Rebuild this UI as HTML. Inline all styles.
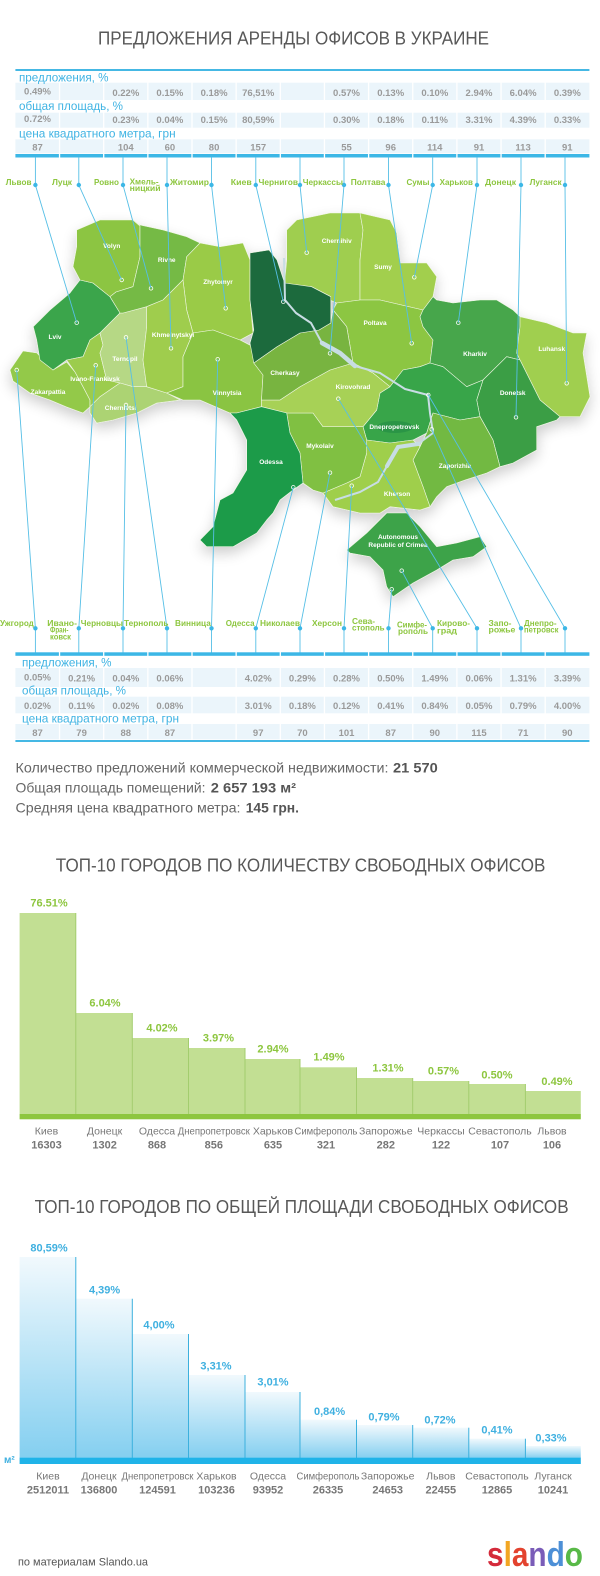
<!DOCTYPE html>
<html><head><meta charset="utf-8"><style>
html,body{margin:0;padding:0;background:#fff;}
svg{display:block;}
text{font-family:"Liberation Sans","DejaVu Sans",sans-serif;}
.t{fill:#585858;font-size:18px;}
.lb{fill:#3fb3e3;font-size:12px;}
.v{fill:#9a9a9a;font-size:9.5px;font-weight:bold;text-anchor:middle;}
.cl{fill:#8dc63f;font-size:8.5px;font-weight:bold;}
.rg{fill:#fff;font-size:6.5px;font-weight:bold;text-anchor:middle;}
.p1{fill:#8dc63f;font-size:11px;font-weight:bold;text-anchor:middle;}
.p2{fill:#3fb0e0;font-size:11px;font-weight:bold;text-anchor:middle;}
.cn{fill:#777;font-size:10.5px;text-anchor:middle;}
.nm{fill:#777;font-size:11px;font-weight:bold;text-anchor:middle;}
.st{fill:#666;font-size:14px;}
.sb{fill:#555;font-size:14px;font-weight:bold;}
</style></head><body>
<svg width="600" height="1576" viewBox="0 0 600 1576" xmlns="http://www.w3.org/2000/svg">
<defs>
<linearGradient id="g2" x1="0" y1="0" x2="0" y2="1"><stop offset="0" stop-color="#f1f9fd"/><stop offset="1" stop-color="#84cff0"/></linearGradient>
<filter id="sh" x="-10%" y="-10%" width="120%" height="130%"><feGaussianBlur in="SourceAlpha" stdDeviation="7"/><feOffset dx="0" dy="6"/><feComponentTransfer><feFuncA type="linear" slope="0.2"/></feComponentTransfer><feMerge><feMergeNode/><feMergeNode in="SourceGraphic"/></feMerge></filter>
</defs>
<rect width="600" height="1576" fill="#fff"/>

<!-- Title -->
<text class="t" x="98" y="44.5" textLength="391" lengthAdjust="spacingAndGlyphs">ПРЕДЛОЖЕНИЯ АРЕНДЫ ОФИСОВ В УКРАИНЕ</text>

<!-- Top table -->
<rect x="15.4" y="69" width="574" height="2" fill="#45b8e4"/>
<rect x="15.4" y="82.7" width="574" height="17.3" fill="#ebf5fb"/>
<rect x="15.4" y="112.7" width="574" height="15" fill="#ebf5fb"/>
<rect x="15.4" y="139.3" width="574" height="14" fill="#ebf5fb"/>
<rect x="15.4" y="154" width="574" height="3.5" fill="#3cb7e6"/>
<g stroke="#fff" stroke-width="1.3">
<line x1="59.55" y1="82" x2="59.55" y2="158"/><line x1="103.7" y1="82" x2="103.7" y2="158"/><line x1="147.85" y1="82" x2="147.85" y2="158"/><line x1="192" y1="82" x2="192" y2="158"/><line x1="236.15" y1="82" x2="236.15" y2="158"/><line x1="280.3" y1="82" x2="280.3" y2="158"/><line x1="324.45" y1="82" x2="324.45" y2="158"/><line x1="368.6" y1="82" x2="368.6" y2="158"/><line x1="412.75" y1="82" x2="412.75" y2="158"/><line x1="456.9" y1="82" x2="456.9" y2="158"/><line x1="501.05" y1="82" x2="501.05" y2="158"/><line x1="545.2" y1="82" x2="545.2" y2="158"/>
</g>
<text class="lb" x="19" y="81.7" textLength="89.5" lengthAdjust="spacingAndGlyphs">предложения, %</text>
<text class="lb" x="19" y="110" textLength="104" lengthAdjust="spacingAndGlyphs">общая площадь, %</text>
<text class="lb" x="19" y="137.3" textLength="156.6" lengthAdjust="spacingAndGlyphs">цена квадратного метра, грн</text>
<g class="v">
<text class="v" x="37.5" y="94.5">0.49%</text><text class="v" x="125.8" y="96">0.22%</text><text class="v" x="169.9" y="96">0.15%</text><text class="v" x="214.1" y="96">0.18%</text><text class="v" x="258.2" y="96">76,51%</text><text class="v" x="346.5" y="96">0.57%</text><text class="v" x="390.7" y="96">0.13%</text><text class="v" x="434.8" y="96">0.10%</text><text class="v" x="479" y="96">2.94%</text><text class="v" x="523.1" y="96">6.04%</text><text class="v" x="567.3" y="96">0.39%</text>
<text class="v" x="37.5" y="122">0.72%</text><text class="v" x="125.8" y="123">0.23%</text><text class="v" x="169.9" y="123">0.04%</text><text class="v" x="214.1" y="123">0.15%</text><text class="v" x="258.2" y="123">80,59%</text><text class="v" x="346.5" y="123">0.30%</text><text class="v" x="390.7" y="123">0.18%</text><text class="v" x="434.8" y="123">0.11%</text><text class="v" x="479" y="123">3.31%</text><text class="v" x="523.1" y="123">4.39%</text><text class="v" x="567.3" y="123">0.33%</text>
<text class="v" x="37.5" y="150.5">87</text><text class="v" x="125.8" y="150.5">104</text><text class="v" x="169.9" y="150.5">60</text><text class="v" x="214.1" y="150.5">80</text><text class="v" x="258.2" y="150.5">157</text><text class="v" x="346.5" y="150.5">55</text><text class="v" x="390.7" y="150.5">96</text><text class="v" x="434.8" y="150.5">114</text><text class="v" x="479" y="150.5">91</text><text class="v" x="523.1" y="150.5">113</text><text class="v" x="567.3" y="150.5">91</text>
</g>

<!-- MAP -->
<g filter="url(#sh)" stroke="#eef6e2" stroke-width="0.6" stroke-linejoin="round">
<polygon fill="#93c94a" points="10,370 23,351 37,353 45,362 53,370 66.7,362 75,372 83,386.7 90,400 90,406.7 83,413 66.7,407 50,400 30,393 13,381"/>
<polygon fill="#3aa54b" points="33.3,326.7 50,310 70,293 80,280 93,283 110,296.7 120,313 113,320 100,333 90,340 83,356.7 66.7,360 53,370 40,360 36.7,340"/>
<polygon fill="#9ccc4e" points="66.7,360 83,356.7 90,340 100,333 103,345 100,353 106.7,380 120,383 100,396.7 90,406.7 90,400 83,386.7 75,372"/>
<polygon fill="#b6d885" points="100,333 113,320 120,313 123,313 146.7,306.7 146.7,326.7 143,360 146.7,386.7 133,386.7 120,383 106.7,380 100,353 103,345"/>
<polygon fill="#acd373" points="100,396.7 120,383 133,386.7 146.7,386.7 166.7,393 180,400 156.7,403 136.7,413 113,420 96.7,423 90,413 90,406.7"/>
<polygon fill="#8cc542" points="76.7,230 100,220 133,220 140,226 140,256.7 133,286.7 116,292 110,296.7 93,283 80,280 73,266.7 76.7,246.7"/>
<polygon fill="#74ba44" points="133,220 140,225 163,230 186.7,236.7 200,243 186.7,256.7 183,280 163,300 146.7,306.7 123,313 120,313 110,296.7 116,292 133,286.7 140,256.7 140,226"/>
<polygon fill="#9acb47" points="200,243 220,246.7 243,243 250,260 250,300 253,333 240,340 213,330 193,333 186.7,310 183,280 186.7,256.7"/>
<polygon fill="#9fcd4d" points="146.7,306.7 163,300 183,280 186.7,310 193,333 183,356.7 183,386.7 166.7,393 146.7,386.7 143,360 146.7,326.7"/>
<polygon fill="#8ac443" points="193,333 213,330 240,340 253,346.7 253.8,363 263,375 261.5,400 261.5,406.7 236.7,413 230,413 200,400 183,400 166.7,393 183,386.7 183,356.7"/>
<polygon fill="#9fce4f" points="286.7,230 296.7,220 330,213 360,213 363,230 360,260 360,300 336.7,303 330,300 330.8,296.7 311.5,286.7 290,286.7 284.6,283 286.7,260"/>
<polygon fill="#a2cf4e" points="360,213 390,220 396.7,233 400,263 426.7,263 436.7,276.7 433,296.7 423,310 380,300 360,300 360,260 363,230"/>
<polygon fill="#8cc643" points="336.7,303 360,300 380,300 423,310 420,316.7 423,326.7 433,340 430,363 420,366.7 403,370 390,386.7 373,373 353,363 346.7,326.7 333,310"/>
<polygon fill="#46a64b" points="420,316.7 423,310 433,296.7 436.7,300 453,303 480,300 496.7,300 513,310 520,316.7 520,326.7 516.7,353 520,360 506.7,356.7 483,380 466.7,386.7 443,366.7 430,363 433,340 423,326.7"/>
<polygon fill="#a0cf50" points="520,316.7 546.7,323 573,333 586.7,333 583,353 590,396.7 580,416.7 560,416.7 540,400 520,360 516.7,353 520,326.7"/>
<polygon fill="#3b9e45" points="520,360 540,400 560,416.7 556.7,420 536.7,426.7 536.7,450 513,463 500,466.7 493,440 480,416.7 476.7,400 483,380 506.7,356.7"/>
<polygon fill="#38a54a" points="380,393 390,386.7 403,370 420,366.7 430,363 443,366.7 466.7,386.7 483,380 476.7,400 480,416.7 460,420 433,413 426.7,433 413,440 390,443 366.7,440 363,426.7 376.7,410"/>
<polygon fill="#72b943" points="433,413 460,420 480,416.7 493,440 500,466.7 486.7,473 465,480 446.7,486.7 436.7,496.7 430,506.7 423,486.7 413,460 420,446.7 426.7,433"/>
<polygon fill="#9fcf4c" points="390,443 413,440 420,446.7 413,460 423,486.7 430,506.7 420,510 390,506.7 380,513 360,513 333,506.7 323,493 346.7,483 360,476.7 366.7,453 366.7,440"/>
<polygon fill="#80c043" points="286.7,413 313,413 323,426.7 363,426.7 366.7,440 366.7,453 360,476.7 346.7,483 323,493 313,490 303,483 300,453 290,433"/>
<polygon fill="#a7d156" points="261.5,400 280,400 300,386.7 330,370 353,363 373,373 390,386.7 380,393 376.7,410 363,426.7 323,426.7 313,413 286.7,413 261.5,406.7"/>
<polygon fill="#78b43f" points="253.8,363 277,346.7 300,333 319,330 330.8,323 333,310 346.7,326.7 353,363 330,370 300,386.7 280,400 261.5,400 263,375"/>
<polygon fill="#1c6b3c" points="250,253 269,250 277,260 284.6,283 311.5,286.7 330.8,296.7 330.8,323 319,330 300,333 277,346.7 253.8,363 250,343 253.8,330 250,300 250,263"/>
<polygon fill="#1a9b4a" points="230,413 236.7,413 261.5,406.7 286.7,413 290,433 300,453 303,483 293,490 280,500 273,513 266.7,520 256.7,533 233,546.7 206.7,546.7 200,540 213,526.7 220,500 233,493 246.7,470 246.7,440 236.7,420"/>
<polygon fill="#3ea34a" points="346.7,550 366.7,533 386.7,513 406.7,513 420,526.7 436.7,546.7 456.7,543 480,536.7 486.7,546.7 473,556.7 453,560 436.7,570 413,583 393,596.7 386.7,586.7 383,570 370,556.7 350,553"/>
</g>
<ellipse cx="395" cy="427" rx="18" ry="6" fill="#2a9546"/>
<path d="M284,258 L285,300 L296,313 L311,323 L322,343 L340,353 L355,366 L380,373 L405,389 L428,395 L430,413 L433,433 L418,444 L398,447 L387,466 L378,482 L360,492 L335,500" fill="none" stroke="#c8dde4" stroke-width="2" stroke-linejoin="round"/>
<path d="M322,343 L340,353 L355,366" fill="none" stroke="#c8dde4" stroke-width="4.5" stroke-linecap="round"/>
<path d="M418,444 L398,447 L387,466" fill="none" stroke="#c8dde4" stroke-width="4" stroke-linecap="round"/>
<g>
<text class="rg" x="111.7" y="248">Volyn</text><text class="rg" x="166.7" y="262">Rivne</text><text class="rg" x="218" y="284">Zhytomyr</text><text class="rg" x="55" y="339">Lviv</text><text class="rg" x="125" y="361">Ternopil</text><text class="rg" x="173" y="337">Khmelnytskyi</text><text class="rg" x="95" y="381">Ivano-Frankivsk</text><text class="rg" x="48" y="394">Zakarpattia</text><text class="rg" x="120.7" y="410">Chernivtsi</text><text class="rg" x="227" y="395">Vinnytsia</text><text class="rg" x="285" y="375">Cherkasy</text><text class="rg" x="271" y="464">Odessa</text><text class="rg" x="336.7" y="243">Chernihiv</text><text class="rg" x="383" y="269">Sumy</text><text class="rg" x="375" y="325">Poltava</text><text class="rg" x="475" y="356">Kharkiv</text><text class="rg" x="551.7" y="351">Luhansk</text><text class="rg" x="512.7" y="395">Donetsk</text><text class="rg" x="353" y="389">Kirovohrad</text><text class="rg" x="394.3" y="429">Dnepropetrovsk</text><text class="rg" x="455" y="468">Zaporizhia</text><text class="rg" x="320" y="448">Mykolaiv</text><text class="rg" x="397" y="496">Kherson</text><text class="rg" x="398" y="539">Autonomous</text><text class="rg" x="398" y="547">Republic of Crimea</text>
</g>
<g fill="none" stroke="#fff" stroke-width="0.8">
<circle cx="76.7" cy="322.7" r="1.8"/><circle cx="121.7" cy="280" r="1.8"/><circle cx="151" cy="288.3" r="1.8"/><circle cx="171" cy="348.3" r="1.8"/><circle cx="225.7" cy="308.3" r="1.8"/><circle cx="283.3" cy="301.7" r="1.8"/><circle cx="306.7" cy="252.7" r="1.8"/><circle cx="330" cy="353.3" r="1.8"/><circle cx="411.7" cy="343.3" r="1.8"/><circle cx="414.3" cy="277.3" r="1.8"/><circle cx="458.3" cy="322.7" r="1.8"/><circle cx="516" cy="417.3" r="1.8"/><circle cx="566.7" cy="383.3" r="1.8"/>
<circle cx="16.7" cy="370" r="1.8"/><circle cx="95.7" cy="365.3" r="1.8"/><circle cx="126" cy="405" r="1.8"/><circle cx="126" cy="337.3" r="1.8"/><circle cx="217.7" cy="359.3" r="1.8"/><circle cx="293.3" cy="487.3" r="1.8"/><circle cx="330" cy="472.7" r="1.8"/><circle cx="351.7" cy="485.7" r="1.8"/><circle cx="391.7" cy="589.3" r="1.8"/><circle cx="401.7" cy="570.7" r="1.8"/><circle cx="338.3" cy="398.7" r="1.8"/><circle cx="431.7" cy="429.3" r="1.8"/><circle cx="428.3" cy="395" r="1.8"/>
</g>

<!-- connectors top -->
<g stroke="#56bfe6" stroke-width="0.9" fill="none">
<polyline points="35.4,157 35.4,185 76.7,322.7"/><polyline points="78.8,157 78.8,185 121.7,280"/><polyline points="123,157 123,185 151,288.3"/><polyline points="167,157 167,185 171,348.3"/><polyline points="211.5,157 211.5,185 225.7,308.3"/><polyline points="255.8,157 255.8,185 283.3,301.7"/><polyline points="300,157 300,185 306.7,252.7"/><polyline points="344,157 344,185 330,353.3"/><polyline points="388.5,157 388.5,185 411.7,343.3"/><polyline points="432.7,157 432.7,185 414.3,277.3"/><polyline points="477,157 477,185 458.3,322.7"/><polyline points="521,157 521,185 516,417.3"/><polyline points="565,157 565,185 566.7,383.3"/>
<polyline points="35.4,653 35.4,628.3 16.7,370"/><polyline points="78.8,653 78.8,628.3 95.7,365.3"/><polyline points="123,653 123,628.3 126,405"/><polyline points="167,653 167,628.3 126,337.3"/><polyline points="211.5,653 211.5,628.3 217.7,359.3"/><polyline points="255.8,653 255.8,628.3 293.3,487.3"/><polyline points="300,653 300,628.3 330,472.7"/><polyline points="344,653 344,628.3 351.7,485.7"/><polyline points="388.5,653 388.5,628.3 391.7,589.3"/><polyline points="432.7,653 432.7,628.3 401.7,570.7"/><polyline points="477,653 477,628.3 338.3,398.7"/><polyline points="521,653 521,628.3 431.7,429.3"/><polyline points="565,653 565,628.3 428.3,395"/>
</g>
<g fill="#3cb7e6">
<circle cx="35.4" cy="185" r="2.2"/><circle cx="78.8" cy="185" r="2.2"/><circle cx="123" cy="185" r="2.2"/><circle cx="167" cy="185" r="2.2"/><circle cx="211.5" cy="185" r="2.2"/><circle cx="255.8" cy="185" r="2.2"/><circle cx="300" cy="185" r="2.2"/><circle cx="344" cy="185" r="2.2"/><circle cx="388.5" cy="185" r="2.2"/><circle cx="432.7" cy="185" r="2.2"/><circle cx="477" cy="185" r="2.2"/><circle cx="521" cy="185" r="2.2"/><circle cx="565" cy="185" r="2.2"/>
<circle cx="35.4" cy="628.3" r="2.2"/><circle cx="78.8" cy="628.3" r="2.2"/><circle cx="123" cy="628.3" r="2.2"/><circle cx="167" cy="628.3" r="2.2"/><circle cx="211.5" cy="628.3" r="2.2"/><circle cx="255.8" cy="628.3" r="2.2"/><circle cx="300" cy="628.3" r="2.2"/><circle cx="344" cy="628.3" r="2.2"/><circle cx="388.5" cy="628.3" r="2.2"/><circle cx="432.7" cy="628.3" r="2.2"/><circle cx="477" cy="628.3" r="2.2"/><circle cx="521" cy="628.3" r="2.2"/><circle cx="565" cy="628.3" r="2.2"/>
</g>

<!-- top city labels -->
<text class="cl" x="5.8" y="185" textLength="25.7" lengthAdjust="spacingAndGlyphs">Львов</text>
<text class="cl" x="52" y="185" textLength="20" lengthAdjust="spacingAndGlyphs">Луцк</text>
<text class="cl" x="94" y="185" textLength="25" lengthAdjust="spacingAndGlyphs">Ровно</text>
<text class="cl" x="129.6" y="184.5" textLength="29" lengthAdjust="spacingAndGlyphs">Хмель-</text>
<text class="cl" x="129.6" y="191" textLength="31" lengthAdjust="spacingAndGlyphs">ницкий</text>
<text class="cl" x="170" y="185" textLength="39" lengthAdjust="spacingAndGlyphs">Житомир</text>
<text class="cl" x="230.8" y="185" textLength="21" lengthAdjust="spacingAndGlyphs">Киев</text>
<text class="cl" x="258.5" y="185" textLength="39.5" lengthAdjust="spacingAndGlyphs">Чернигов</text>
<text class="cl" x="302.7" y="185" textLength="40.3" lengthAdjust="spacingAndGlyphs">Черкассы</text>
<text class="cl" x="350.8" y="185" textLength="34.6" lengthAdjust="spacingAndGlyphs">Полтава</text>
<text class="cl" x="406.5" y="185" textLength="23" lengthAdjust="spacingAndGlyphs">Сумы</text>
<text class="cl" x="439.6" y="185" textLength="33.4" lengthAdjust="spacingAndGlyphs">Харьков</text>
<text class="cl" x="485" y="185" textLength="31" lengthAdjust="spacingAndGlyphs">Донецк</text>
<text class="cl" x="529.6" y="185" textLength="32" lengthAdjust="spacingAndGlyphs">Луганск</text>

<!-- bottom city labels -->
<text class="cl" x="0" y="626" textLength="33.8" lengthAdjust="spacingAndGlyphs">Ужгород</text>
<text class="cl" x="47.3" y="626" textLength="29.7" lengthAdjust="spacingAndGlyphs">Ивано-</text>
<text class="cl" x="50" y="632.6" textLength="18.5" lengthAdjust="spacingAndGlyphs">Фран-</text>
<text class="cl" x="50" y="639.3" textLength="21" lengthAdjust="spacingAndGlyphs">ковск</text>
<text class="cl" x="80.8" y="626" textLength="42.2" lengthAdjust="spacingAndGlyphs">Черновцы</text>
<text class="cl" x="124" y="626" textLength="44.5" lengthAdjust="spacingAndGlyphs">Тернополь</text>
<text class="cl" x="175" y="626" textLength="35.8" lengthAdjust="spacingAndGlyphs">Винница</text>
<text class="cl" x="225.8" y="626" textLength="28.8" lengthAdjust="spacingAndGlyphs">Одесса</text>
<text class="cl" x="260" y="626" textLength="40" lengthAdjust="spacingAndGlyphs">Николаев</text>
<text class="cl" x="312" y="626" textLength="30" lengthAdjust="spacingAndGlyphs">Херсон</text>
<text class="cl" x="352" y="624" textLength="23" lengthAdjust="spacingAndGlyphs">Сева-</text>
<text class="cl" x="352" y="630.6" textLength="32.6" lengthAdjust="spacingAndGlyphs">стополь</text>
<text class="cl" x="397" y="627.3" textLength="30" lengthAdjust="spacingAndGlyphs">Симфе-</text>
<text class="cl" x="398" y="634" textLength="30" lengthAdjust="spacingAndGlyphs">рополь</text>
<text class="cl" x="437" y="626" textLength="33" lengthAdjust="spacingAndGlyphs">Кирово-</text>
<text class="cl" x="437" y="633.3" textLength="20" lengthAdjust="spacingAndGlyphs">град</text>
<text class="cl" x="488.5" y="626" textLength="23" lengthAdjust="spacingAndGlyphs">Запо-</text>
<text class="cl" x="488.5" y="632.6" textLength="26.9" lengthAdjust="spacingAndGlyphs">рожье</text>
<text class="cl" x="524" y="626" textLength="32.5" lengthAdjust="spacingAndGlyphs">Днепро-</text>
<text class="cl" x="524" y="632.6" textLength="34.5" lengthAdjust="spacingAndGlyphs">петровск</text>

<!-- Bottom table -->
<rect x="15.4" y="652.3" width="574" height="3.5" fill="#3cb7e6"/>
<rect x="15.4" y="668" width="574" height="19" fill="#ebf5fb"/>
<rect x="15.4" y="696.7" width="574" height="16.6" fill="#ebf5fb"/>
<rect x="15.4" y="724" width="574" height="15.3" fill="#ebf5fb"/>
<rect x="15.4" y="740" width="574" height="2" fill="#45b8e4"/>
<g stroke="#fff" stroke-width="1.3">
<line x1="59.55" y1="652" x2="59.55" y2="656"/><line x1="103.7" y1="652" x2="103.7" y2="656"/><line x1="147.85" y1="652" x2="147.85" y2="656"/><line x1="192" y1="652" x2="192" y2="656"/><line x1="236.15" y1="652" x2="236.15" y2="656"/><line x1="280.3" y1="652" x2="280.3" y2="656"/><line x1="324.45" y1="652" x2="324.45" y2="656"/><line x1="368.6" y1="652" x2="368.6" y2="656"/><line x1="412.75" y1="652" x2="412.75" y2="656"/><line x1="456.9" y1="652" x2="456.9" y2="656"/><line x1="501.05" y1="652" x2="501.05" y2="656"/><line x1="545.2" y1="652" x2="545.2" y2="656"/>
<line x1="59.55" y1="668" x2="59.55" y2="740"/><line x1="103.7" y1="668" x2="103.7" y2="740"/><line x1="147.85" y1="668" x2="147.85" y2="740"/><line x1="192" y1="668" x2="192" y2="740"/><line x1="236.15" y1="668" x2="236.15" y2="740"/><line x1="280.3" y1="668" x2="280.3" y2="740"/><line x1="324.45" y1="668" x2="324.45" y2="740"/><line x1="368.6" y1="668" x2="368.6" y2="740"/><line x1="412.75" y1="668" x2="412.75" y2="740"/><line x1="456.9" y1="668" x2="456.9" y2="740"/><line x1="501.05" y1="668" x2="501.05" y2="740"/><line x1="545.2" y1="668" x2="545.2" y2="740"/>
</g>
<text class="lb" x="22" y="666.5" textLength="89.5" lengthAdjust="spacingAndGlyphs">предложения, %</text>
<text class="lb" x="22" y="694.7" textLength="104" lengthAdjust="spacingAndGlyphs">общая площадь, %</text>
<text class="lb" x="22" y="722.5" textLength="157" lengthAdjust="spacingAndGlyphs">цена квадратного метра, грн</text>
<g>
<text class="v" x="37.5" y="680.5">0.05%</text><text class="v" x="81.6" y="681.5">0.21%</text><text class="v" x="125.8" y="681.5">0.04%</text><text class="v" x="169.9" y="681.5">0.06%</text><text class="v" x="258.2" y="681.5">4.02%</text><text class="v" x="302.4" y="681.5">0.29%</text><text class="v" x="346.5" y="681.5">0.28%</text><text class="v" x="390.7" y="681.5">0.50%</text><text class="v" x="434.8" y="681.5">1.49%</text><text class="v" x="479" y="681.5">0.06%</text><text class="v" x="523.1" y="681.5">1.31%</text><text class="v" x="567.3" y="681.5">3.39%</text>
<text class="v" x="37.5" y="709">0.02%</text><text class="v" x="81.6" y="709">0.11%</text><text class="v" x="125.8" y="709">0.02%</text><text class="v" x="169.9" y="709">0.08%</text><text class="v" x="258.2" y="709">3.01%</text><text class="v" x="302.4" y="709">0.18%</text><text class="v" x="346.5" y="709">0.12%</text><text class="v" x="390.7" y="709">0.41%</text><text class="v" x="434.8" y="709">0.84%</text><text class="v" x="479" y="709">0.05%</text><text class="v" x="523.1" y="709">0.79%</text><text class="v" x="567.3" y="709">4.00%</text>
<text class="v" x="37.5" y="736">87</text><text class="v" x="81.6" y="736">79</text><text class="v" x="125.8" y="736">88</text><text class="v" x="169.9" y="736">87</text><text class="v" x="258.2" y="736">97</text><text class="v" x="302.4" y="736">70</text><text class="v" x="346.5" y="736">101</text><text class="v" x="390.7" y="736">87</text><text class="v" x="434.8" y="736">90</text><text class="v" x="479" y="736">115</text><text class="v" x="523.1" y="736">71</text><text class="v" x="567.3" y="736">90</text>
</g>

<!-- Stats -->
<text class="st" x="15.5" y="772.5" textLength="373" lengthAdjust="spacingAndGlyphs">Количество предложений коммерческой недвижимости:</text>
<text class="sb" x="393" y="772.5" textLength="44.7" lengthAdjust="spacingAndGlyphs">21 570</text>
<text class="st" x="15.5" y="792.5" textLength="190" lengthAdjust="spacingAndGlyphs">Общая площадь помещений:</text>
<text class="sb" x="210.8" y="792.5" textLength="85.2" lengthAdjust="spacingAndGlyphs">2 657 193 м²</text>
<text class="st" x="15.5" y="812.5" textLength="225" lengthAdjust="spacingAndGlyphs">Средняя цена квадратного метра:</text>
<text class="sb" x="245.7" y="812.5" textLength="53.3" lengthAdjust="spacingAndGlyphs">145 грн.</text>

<!-- Chart 1 -->
<text class="t" x="55.8" y="871.5" textLength="489.6" lengthAdjust="spacingAndGlyphs">ТОП-10 ГОРОДОВ ПО КОЛИЧЕСТВУ СВОБОДНЫХ ОФИСОВ</text>
<g fill="#c2df93">
<rect x="19.6" y="913" width="56.2" height="201"/><rect x="75.8" y="1013" width="56.5" height="101"/><rect x="132.3" y="1038" width="56.2" height="76"/><rect x="188.5" y="1048" width="56.5" height="66"/><rect x="245" y="1059" width="55" height="55"/><rect x="300" y="1067.3" width="56.5" height="46.7"/><rect x="356.5" y="1078" width="56.2" height="36"/><rect x="412.7" y="1081" width="56.1" height="33"/><rect x="468.8" y="1084" width="56.6" height="30"/><rect x="525.4" y="1091" width="55.4" height="23"/>
</g>
<g stroke="#a3cd6e" stroke-width="1">
<line x1="75.8" y1="913" x2="75.8" y2="1114"/><line x1="132.3" y1="1013" x2="132.3" y2="1114"/><line x1="188.5" y1="1038" x2="188.5" y2="1114"/><line x1="245" y1="1048" x2="245" y2="1114"/><line x1="300" y1="1059" x2="300" y2="1114"/><line x1="356.5" y1="1067.3" x2="356.5" y2="1114"/><line x1="412.7" y1="1078" x2="412.7" y2="1114"/><line x1="468.8" y1="1081" x2="468.8" y2="1114"/><line x1="525.4" y1="1084" x2="525.4" y2="1114"/>
</g>
<rect x="19.6" y="1114" width="561.2" height="5.3" fill="#8dc63f"/>
<text class="p1" x="49" y="906.3">76.51%</text><text class="p1" x="105" y="1006.7">6.04%</text><text class="p1" x="162" y="1031.3">4.02%</text><text class="p1" x="218.5" y="1041.3">3.97%</text><text class="p1" x="273" y="1052.3">2.94%</text><text class="p1" x="329" y="1060.7">1.49%</text><text class="p1" x="388" y="1071.7">1.31%</text><text class="p1" x="443.5" y="1074.3">0.57%</text><text class="p1" x="497" y="1078.3">0.50%</text><text class="p1" x="557" y="1085">0.49%</text>
<text class="cn" x="46.5" y="1134.5">Киев</text><text class="cn" x="104.6" y="1134.5">Донецк</text><text class="cn" x="157" y="1134.5">Одесса</text><text class="cn" x="213.8" y="1134.5" textLength="72" lengthAdjust="spacingAndGlyphs">Днепропетровск</text><text class="cn" x="273" y="1134.5">Харьков</text><text class="cn" x="326" y="1134.5" textLength="63" lengthAdjust="spacingAndGlyphs">Симферополь</text><text class="cn" x="385.8" y="1134.5">Запорожье</text><text class="cn" x="441" y="1134.5">Черкассы</text><text class="cn" x="500" y="1134.5">Севастополь</text><text class="cn" x="552" y="1134.5">Львов</text>
<text class="nm" x="46.5" y="1148.3">16303</text><text class="nm" x="104.6" y="1148.3">1302</text><text class="nm" x="157" y="1148.3">868</text><text class="nm" x="213.8" y="1148.3">856</text><text class="nm" x="273" y="1148.3">635</text><text class="nm" x="326" y="1148.3">321</text><text class="nm" x="385.8" y="1148.3">282</text><text class="nm" x="441" y="1148.3">122</text><text class="nm" x="500" y="1148.3">107</text><text class="nm" x="552" y="1148.3">106</text>

<!-- Chart 2 -->
<text class="t" x="34.6" y="1213" textLength="534" lengthAdjust="spacingAndGlyphs">ТОП-10 ГОРОДОВ ПО ОБЩЕЙ ПЛОЩАДИ СВОБОДНЫХ ОФИСОВ</text>
<g fill="url(#g2)">
<rect x="19.6" y="1257" width="56.2" height="201"/><rect x="75.8" y="1298.7" width="56.5" height="159.3"/><rect x="132.3" y="1334" width="56.2" height="124"/><rect x="188.5" y="1375" width="56.5" height="83"/><rect x="245" y="1392" width="55" height="66"/><rect x="300" y="1419.7" width="56.5" height="38.3"/><rect x="356.5" y="1425" width="56.2" height="33"/><rect x="412.7" y="1427.7" width="56.1" height="30.3"/><rect x="468.8" y="1438.7" width="56.6" height="19.3"/><rect x="525.4" y="1446" width="55.4" height="12"/>
</g>
<g stroke="#3cb0dd" stroke-width="1">
<line x1="75.8" y1="1257" x2="75.8" y2="1458"/><line x1="132.3" y1="1298.7" x2="132.3" y2="1458"/><line x1="188.5" y1="1334" x2="188.5" y2="1458"/><line x1="245" y1="1375" x2="245" y2="1458"/><line x1="300" y1="1392" x2="300" y2="1458"/><line x1="356.5" y1="1419.7" x2="356.5" y2="1458"/><line x1="412.7" y1="1425" x2="412.7" y2="1458"/><line x1="468.8" y1="1427.7" x2="468.8" y2="1458"/><line x1="525.4" y1="1438.7" x2="525.4" y2="1458"/>
</g>
<rect x="19.6" y="1457.7" width="561.2" height="6.3" fill="#1fb3e8"/>
<text x="4" y="1463" fill="#3fb0e0" font-size="10" font-weight="bold">м²</text>
<text class="p2" x="49" y="1251.3">80,59%</text><text class="p2" x="104.6" y="1293.3">4,39%</text><text class="p2" x="159" y="1328.3">4,00%</text><text class="p2" x="216" y="1369.3">3,31%</text><text class="p2" x="273" y="1385.3">3,01%</text><text class="p2" x="329.6" y="1415">0,84%</text><text class="p2" x="384" y="1420.3">0,79%</text><text class="p2" x="440" y="1423.3">0,72%</text><text class="p2" x="497" y="1433.3">0,41%</text><text class="p2" x="551" y="1441.3">0,33%</text>
<text class="cn" x="48" y="1479.5">Киев</text><text class="cn" x="99" y="1479.5">Донецк</text><text class="cn" x="157.5" y="1479.5" textLength="72" lengthAdjust="spacingAndGlyphs">Днепропетровск</text><text class="cn" x="216.5" y="1479.5">Харьков</text><text class="cn" x="268" y="1479.5">Одесса</text><text class="cn" x="328" y="1479.5" textLength="63" lengthAdjust="spacingAndGlyphs">Симферополь</text><text class="cn" x="387.7" y="1479.5">Запорожье</text><text class="cn" x="440.8" y="1479.5">Львов</text><text class="cn" x="497" y="1479.5">Севастополь</text><text class="cn" x="553" y="1479.5">Луганск</text>
<text class="nm" x="48" y="1493.3">2512011</text><text class="nm" x="99" y="1493.3">136800</text><text class="nm" x="157.5" y="1493.3">124591</text><text class="nm" x="216.5" y="1493.3">103236</text><text class="nm" x="268" y="1493.3">93952</text><text class="nm" x="328" y="1493.3">26335</text><text class="nm" x="387.7" y="1493.3">24653</text><text class="nm" x="440.8" y="1493.3">22455</text><text class="nm" x="497" y="1493.3">12865</text><text class="nm" x="553" y="1493.3">10241</text>

<!-- Footer -->
<text x="18" y="1565.7" fill="#555" font-size="11" textLength="130" lengthAdjust="spacingAndGlyphs">по материалам Slando.ua</text>
<text x="487" y="1566" font-size="34" font-weight="bold" textLength="96" lengthAdjust="spacingAndGlyphs"><tspan fill="#d42a3a">s</tspan><tspan fill="#f2a623">l</tspan><tspan fill="#e3432f">a</tspan><tspan fill="#7a5cb8">n</tspan><tspan fill="#4d8fd6">d</tspan><tspan fill="#58b947">o</tspan></text>
</svg>
</body></html>
